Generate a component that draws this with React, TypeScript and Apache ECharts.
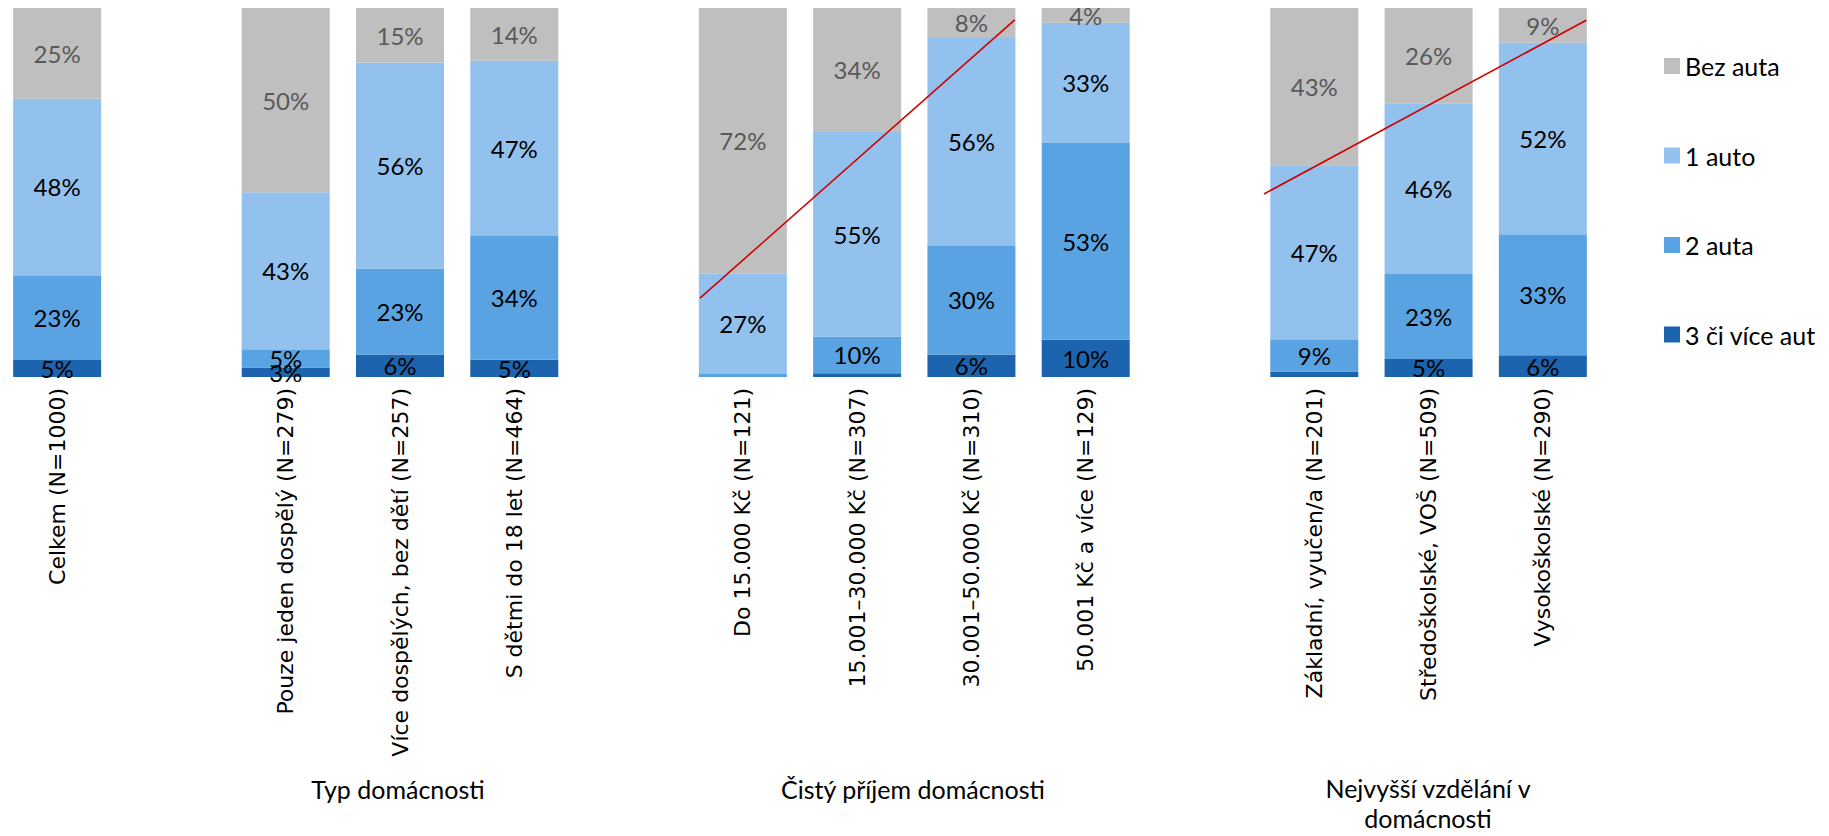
import React, { useEffect, useRef } from "react";
import * as echarts from "echarts";

const categories = [
  "Celkem (N=1000)",
  "",
  "Pouze jeden dospělý (N=279)",
  "Více dospělých, bez dětí (N=257)",
  "S dětmi do 18 let (N=464)",
  " ",
  "Do 15.000 Kč (N=121)",
  "15.001–30.000 Kč (N=307)",
  "30.001–50.000 Kč (N=310)",
  "50.001 Kč a více (N=129)",
  "  ",
  "Základní, vyučen/a (N=201)",
  "Středoškolské, VOŠ (N=509)",
  "Vysokoškolské (N=290)",
];

const seriesNames = ["3 či více aut", "2 auta", "1 auto", "Bez auta"];
const legendOrder = ["Bez auta", "1 auto", "2 auta", "3 či více aut"];

const threePlus = [4.6, null, 2.6, 6.1, 4.7, null, 0, 1.0, 6.1, 10.1, null, 1.5, 4.9, 5.9];
const twoCars = [23.0, null, 4.9, 23.3, 33.7, null, 0.8, 10.0, 29.6, 53.3, null, 8.7, 23.0, 32.8];
const oneCar = [47.8, null, 42.6, 55.8, 47.3, null, 27.2, 55.4, 56.2, 32.6, null, 47.2, 46.3, 51.9];
const noCar = [24.6, null, 49.9, 14.8, 14.3, null, 72.0, 33.6, 8.1, 4.0, null, 42.6, 25.8, 9.4];

const colors = ["#1C64AD", "#5AA3E3", "#92C1EE", "#BFBFBF"];
const labelColors = ["#000000", "#000000", "#000000", "#595959"];

// trend annotations in (category-index space, percent)
const incomeTrend = [
  [6.125, 21.4],
  [8.879, 96.8],
];
const educationTrend = [
  [11.06, 49.6],
  [13.88, 96.7],
];

const groupTitles = [
  { text: "Typ domácnosti", x: 398, y: 789 },
  { text: "Čistý příjem domácnosti", x: 913, y: 789 },
  { text: "Nejvyšší vzdělání v\ndomácnosti", x: 1428, y: 803 },
];

export default function App() {
  const ref = useRef<HTMLDivElement>(null);
  useEffect(() => {
    document.body.style.margin = "0";
    const chart = echarts.init(ref.current!, undefined, { renderer: "svg" });
    const allData = [threePlus, twoCars, oneCar, noCar];
    const barSeries = seriesNames.map((name, i) => ({
      name,
      type: "bar",
      stack: "total",
      xAxisIndex: 0,
      yAxisIndex: 0,
      barCategoryGap: "23%",
      itemStyle: { color: colors[i] },
      label: {
        show: true,
        position: "inside",
        color: labelColors[i],
        fontFamily: "Lato",
        fontSize: 24,
        formatter: (p: any) =>
          p.value == null || p.value < 2 ? "" : Math.round(p.value) + "%",
      },
      data: allData[i],
    }));
    const lineStyle = { color: "#D00000", width: 1.6 };
    const option: any = {
      animation: false,
      backgroundColor: "#ffffff",
      legend: {
        data: legendOrder,
        orient: "vertical",
        left: 1659,
        top: 46,
        itemWidth: 16,
        itemHeight: 16,
        itemGap: 59.5,
        icon: "rect",
        textStyle: {
          fontFamily: "Lato",
          fontSize: 25,
          color: "#000",
          lineHeight: 30,
        },
      },
      grid: { left: -2, width: 1602, top: 8, height: 369 },
      xAxis: [
        {
          type: "category",
          data: categories,
          axisLine: { show: false },
          axisTick: { show: false },
          axisLabel: {
            interval: 0,
            rotate: 90,
            margin: 11,
            fontFamily: "DejaVu Sans",
            fontSize: 22,
            color: "#000",
          },
        },
        { type: "value", min: 0, max: 14, show: false },
      ],
      yAxis: [
        {
          type: "value",
          min: 0,
          max: 100,
          show: false,
          splitLine: { show: false },
        },
      ],
      series: [
        ...barSeries,
        {
          type: "line",
          xAxisIndex: 1,
          yAxisIndex: 0,
          symbol: "none",
          silent: true,
          z: 10,
          lineStyle,
          data: incomeTrend,
        },
        {
          type: "line",
          xAxisIndex: 1,
          yAxisIndex: 0,
          symbol: "none",
          silent: true,
          z: 10,
          lineStyle,
          data: educationTrend,
        },
      ],
      graphic: groupTitles.map((t) => ({
        type: "text",
        x: t.x,
        y: t.y,
        style: {
          text: t.text,
          fill: "#000",
          font: "25px Lato",
          fontFamily: "Lato",
          fontSize: 25,
          lineHeight: 30,
          align: "center",
          verticalAlign: "middle",
          textAlign: "center",
          textVerticalAlign: "middle",
        },
      })),
    };
    chart.setOption(option);
    return () => chart.dispose();
  }, []);
  return (
    <div
      ref={ref}
      style={{ position: "absolute", left: 0, top: 0, width: 1829, height: 836 }}
    />
  );
}
